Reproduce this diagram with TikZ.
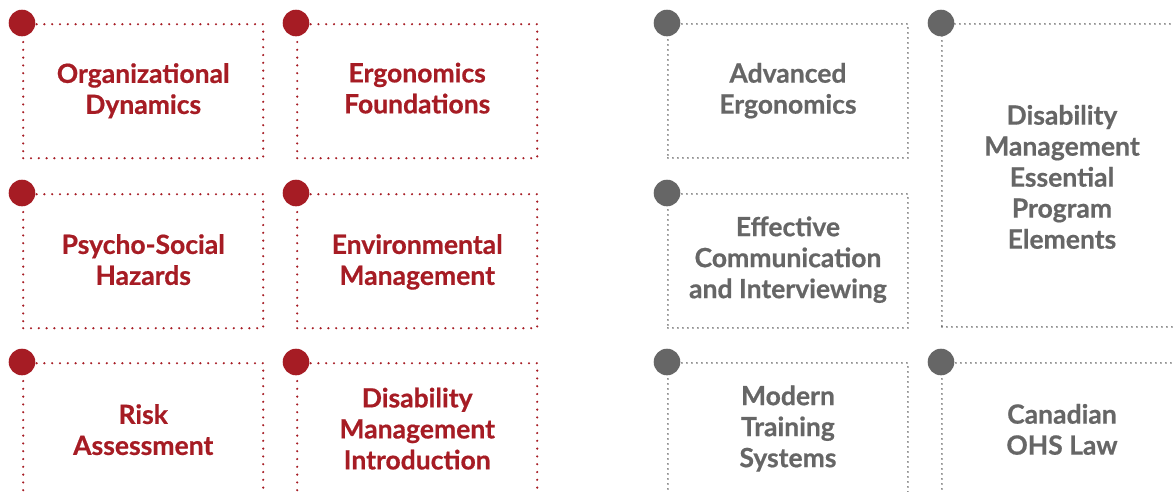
\documentclass[tikz,border=0pt]{standalone}
\usepackage{fontspec}
\setmainfont{Lato}[BoldFeatures={FakeBold=0.6}]
\definecolor{cred}{RGB}{166,28,36}
\definecolor{cgray}{RGB}{102,102,102}
\tikzset{
  x=1pt, y=-1pt,
  box/.style={draw, rectangle, anchor=north west, minimum width=240pt, minimum height=134pt, inner sep=0pt},
  redbox/.style={box, draw=cred, line width=2.4pt, line cap=round, dash pattern=on 0pt off 7.8pt},
  graybox/.style={box, draw=cgray, line width=1.9pt, line cap=round, dash pattern=on 0pt off 5pt},
  lbl/.style={inner sep=0pt, align=center, font=\fontsize{26.5}{31}\selectfont\bfseries,
    execute at end node=\strut, yshift=-3pt},
  redlbl/.style={lbl, text=cred},
  graylbl/.style={lbl, text=cgray},
  reddot/.style={circle, fill=cred, minimum size=26.6pt, inner sep=0pt},
  graydot/.style={circle, fill=cgray, minimum size=26.6pt, inner sep=0pt},
}
\begin{document}
\begin{tikzpicture}
\useasboundingbox (0,0) rectangle (1174,491);
\clip (0,0) rectangle (1174,491);
% boxes
\node[redbox] (b1) at (22,23) {};
\node[redbox] (b2) at (22,193) {};
\node[redbox] (b3) at (22,362) {};
\node[redbox] (b4) at (296,23) {};
\node[redbox] (b5) at (296,193) {};
\node[redbox] (b6) at (296,362) {};
\node[graybox] (g1) at (667,23) {};
\node[graybox] (g2) at (667,193) {};
\node[graybox] (g3) at (667,362) {};
\node[graybox, minimum height=303pt] (g4) at (941,23) {};
\node[graybox] (g5) at (941,362) {};
% labels
\node[redlbl, yshift=1pt] (t1) at (b1.center) {Organizational\\Dynamics};
\node[redlbl] (t2) at (b2.center) {Psycho-Social\\Hazards};
\node[redlbl, yshift=-1pt] (t3) at (b3.center) {Risk\\Assessment};
\node[redlbl, yshift=1.5pt] (t4) at (b4.center) {Ergonomics\\Foundations};
\node[redlbl] (t5) at (b5.center) {Environmental\\Management};
\node[redlbl] (t6) at (b6.center) {Disability\\Management\\Introduction};
\node[graylbl, yshift=1pt] (u1) at (g1.center) {Advanced\\Ergonomics};
\node[graylbl, yshift=2pt] (u2) at (g2.center) {Effective\\Communication\\and Interviewing};
\node[graylbl, yshift=2pt] (u3) at (g3.center) {Modern\\Training\\Systems};
\node[graylbl, yshift=-3pt] (u4) at (g4.center) {Disability\\Management\\Essential\\Program\\Elements};
\node[graylbl, yshift=-1pt] (u5) at (g5.center) {Canadian\\OHS Law};
% corner dots
\foreach \n in {b1,b2,b3,b4,b5,b6} \node[reddot] at (\n.north west) {};
\foreach \n in {g1,g2,g3,g4,g5} \node[graydot] at (\n.north west) {};
\end{tikzpicture}
\end{document}
